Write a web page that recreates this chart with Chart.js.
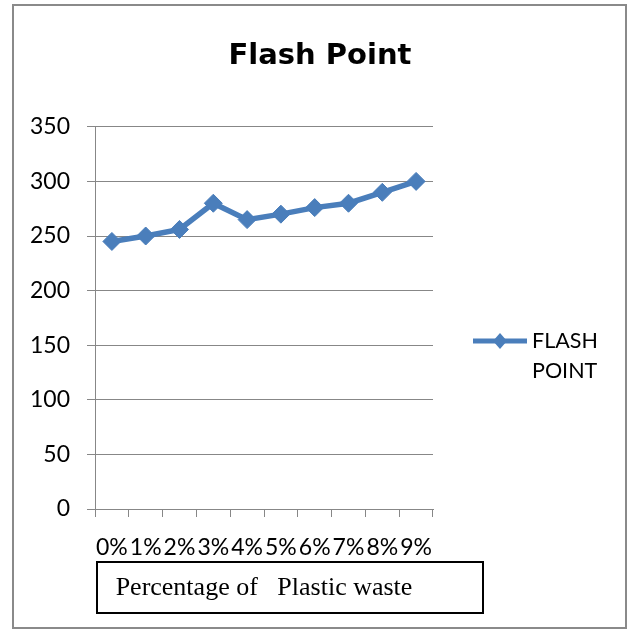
<!DOCTYPE html>
<html><head><meta charset="utf-8">
<script src="https://cdn.jsdelivr.net/npm/chart.js@4/dist/chart.umd.min.js"></script>
<style>html,body{margin:0;padding:0;background:#fff;}#wrap{position:relative;width:629px;height:631px;}</style>
</head><body><div id="wrap"><canvas id="c" width="629" height="631"></canvas></div>
<script>
const chartTitle = 'Flash Point';
const categories = ['0%', '1%', '2%', '3%', '4%', '5%', '6%', '7%', '8%', '9%'];
const seriesLabel = 'FLASH POINT';
const flashPoint = [245, 250, 256, 280, 265, 270, 276, 280, 290, 300];
const yTickValues = [0, 50, 100, 150, 200, 250, 300, 350];
const xAxisTitle = 'Percentage of   Plastic waste';

const BLUE = '#4a7ebb';
const GRID = '#878787';

const framePlugin = {
  id: 'frame',
  beforeDraw(chart) {
    const ctx = chart.ctx;
    ctx.save();
    ctx.fillStyle = '#fff';
    ctx.fillRect(0, 0, chart.width, chart.height);
    ctx.strokeStyle = '#8a8a8a';
    ctx.lineWidth = 2;
    ctx.strokeRect(13, 5, 613, 623);
    ctx.restore();
  },
  afterDraw(chart) {
    const ctx = chart.ctx;
    const area = chart.chartArea;
    ctx.save();
    // axis title box
    ctx.strokeStyle = '#000';
    ctx.lineWidth = 2;
    ctx.strokeRect(area.left + 2, 562, 386, 51);
    // legend
    const ds = chart.data.datasets[0];
    const ly = 341;
    ctx.strokeStyle = ds.borderColor;
    ctx.lineWidth = 5;
    ctx.beginPath();
    ctx.moveTo(473, ly);
    ctx.lineTo(527, ly);
    ctx.stroke();
    ctx.fillStyle = ds.borderColor;
    ctx.beginPath();
    ctx.moveTo(500, ly - 8);
    ctx.lineTo(507, ly);
    ctx.lineTo(500, ly + 8);
    ctx.lineTo(493, ly);
    ctx.closePath();
    ctx.fill();
    ctx.fillStyle = '#000';
    ctx.font = '21.5px Lato';
    ctx.textBaseline = 'alphabetic';
    ctx.textAlign = 'left';
    const words = ds.label.split(' ');
    words.forEach((w, i) => ctx.fillText(w, 532, 348 + i * 30));
    ctx.restore();
  }
};

new Chart(document.getElementById('c'), {
  type: 'line',
  data: {
    labels: categories,
    datasets: [{
      label: seriesLabel,
      data: flashPoint,
      yAxisID: 'y',
      borderColor: BLUE,
      backgroundColor: BLUE,
      borderWidth: 5.5,
      pointStyle: 'rectRot',
      pointRadius: 9,
      pointBackgroundColor: BLUE,
      pointBorderColor: BLUE,
      pointBorderWidth: 1,
      tension: 0,
      fill: false
    }]
  },
  options: {
    responsive: false,
    animation: false,
    devicePixelRatio: 1,
    layout: { padding: { left: 11, right: 0, top: 0, bottom: 0 } },
    plugins: {
      legend: { display: false },
      tooltip: { enabled: false },
      title: {
        display: true,
        text: chartTitle,
        color: '#000',
        font: { family: 'DejaVu Sans', size: 29, weight: 'bold' },
        padding: { top: 39, bottom: 53 }
      }
    },
    scales: {
      x: {
        type: 'category',
        offset: true,
        grid: { display: true, drawOnChartArea: false, drawTicks: true, tickLength: 8, color: GRID, offset: true },
        border: { display: true, color: GRID, width: 1 },
        ticks: { autoSkip: false, maxRotation: 0, minRotation: 0, color: '#000', padding: 17, font: { family: 'Lato', size: 23 } },
        title: { display: true, text: xAxisTitle, color: '#000', font: { family: 'Liberation Serif', size: 26 }, padding: { top: 0, bottom: 27 } },
        afterFit(s) { s.height = 122; }
      },
      y: {
        type: 'linear',
        position: 'left',
        min: 0,
        max: 350,
        grid: { color: GRID, tickLength: 8, drawTicks: true },
        border: { display: true, color: GRID, width: 1 },
        ticks: {
          color: '#000',
          padding: 17,
          font: { family: 'Lato', size: 23 },
          stepSize: 50,
          autoSkip: false
        },
        afterBuildTicks(s) { s.ticks = yTickValues.map(v => ({ value: v })); },
        afterFit(s) { s.width = 84; }
      },
      yR: {
        type: 'linear',
        position: 'right',
        display: true,
        grid: { display: false, drawTicks: false },
        border: { display: false },
        ticks: { display: false },
        afterFit(s) { s.width = 196; }
      }
    }
  },
  plugins: [framePlugin]
});
</script>
</body></html>
